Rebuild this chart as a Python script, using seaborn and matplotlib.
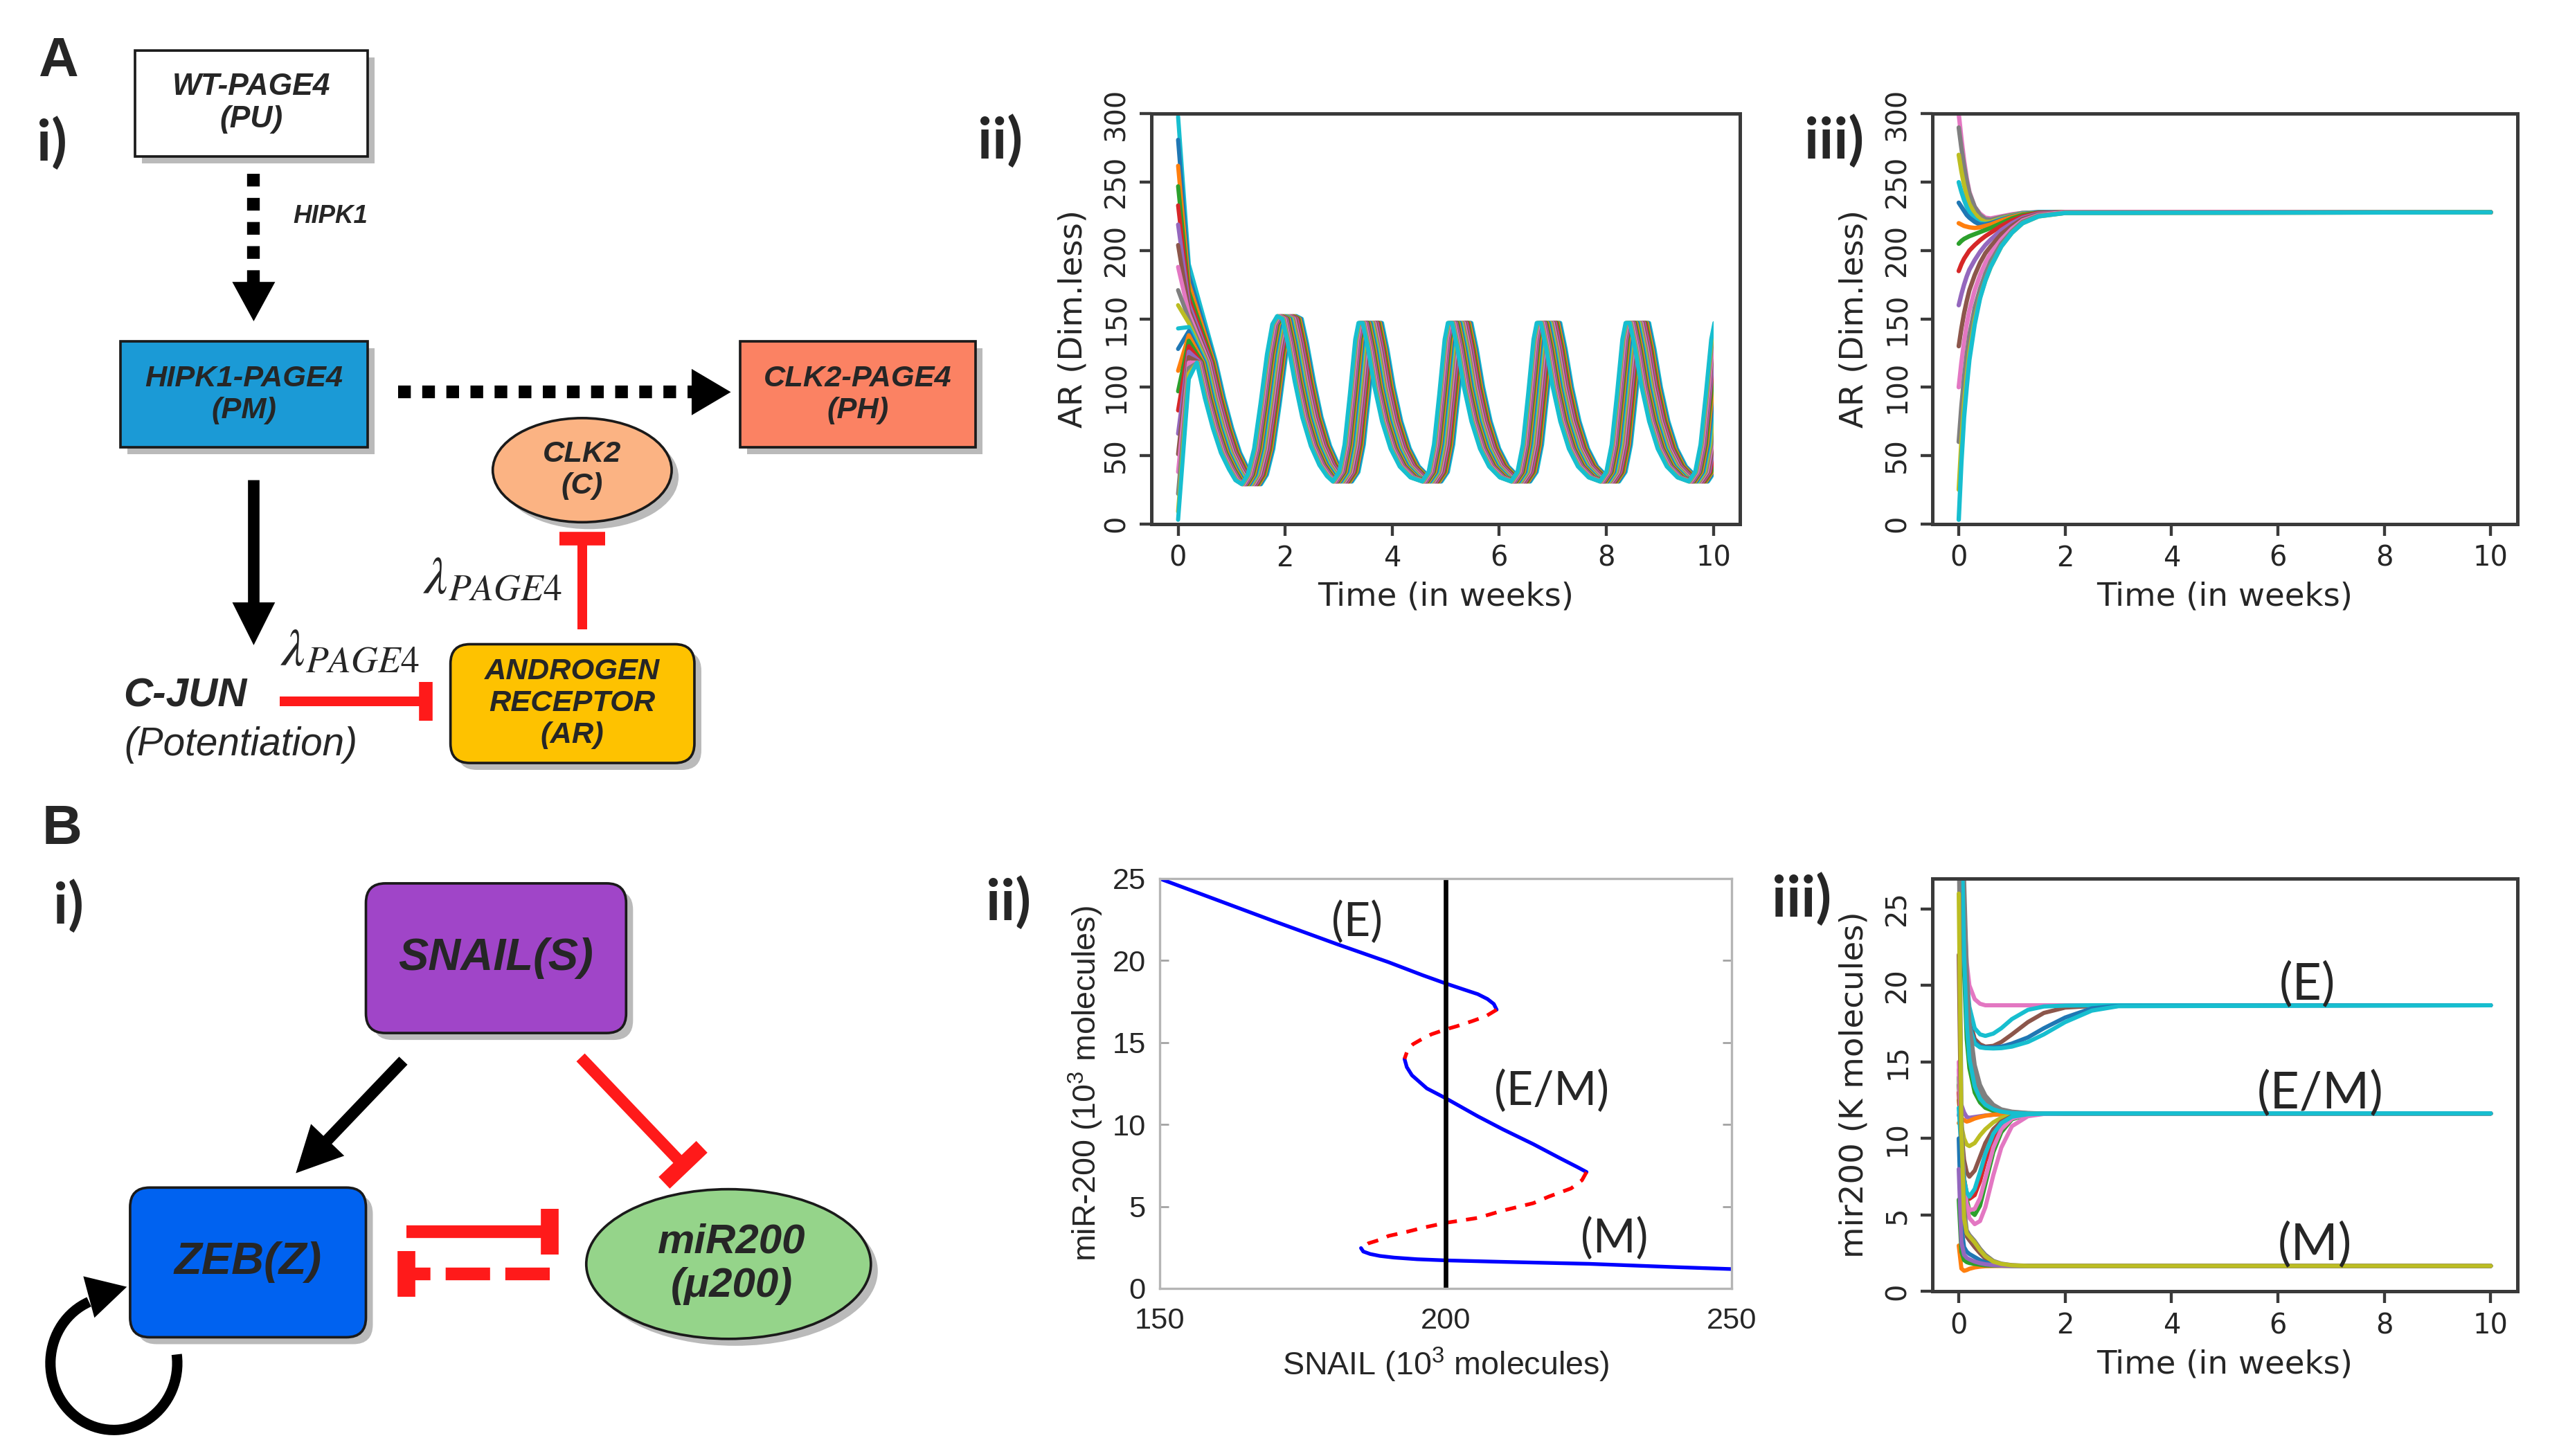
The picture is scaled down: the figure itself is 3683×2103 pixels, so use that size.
import numpy as np
import pandas as pd
import matplotlib
matplotlib.use("Agg")
import matplotlib.pyplot as plt
import matplotlib.patches as mpatches
import matplotlib.patheffects as pe
import seaborn as sns

# ---------------- data ----------------
# A ii) oscillating AR: leading trajectory (time in weeks, AR value)
ar_osc_t = [0.2, 0.35, 0.5, 0.65, 0.8, 0.95, 1.07, 1.19, 1.3, 1.42, 1.54, 1.66, 1.76, 1.85, 1.95, 2.05,
            2.18, 2.32, 2.48, 2.64, 2.78,
            2.89, 3.01, 3.11, 3.21, 3.31, 3.37, 3.45, 3.55, 3.67, 3.81, 3.97, 4.14, 4.34,
            4.56, 4.68, 4.78, 4.88, 4.98, 5.04, 5.12, 5.22, 5.34, 5.48, 5.64, 5.81, 6.01,
            6.22, 6.34, 6.44, 6.54, 6.64, 6.70, 6.78, 6.88, 7.00, 7.14, 7.30, 7.47, 7.67,
            7.88, 8.00, 8.10, 8.20, 8.30, 8.36, 8.44, 8.54, 8.66, 8.80, 8.96, 9.13, 9.33,
            9.54, 9.66, 9.76, 9.86, 9.96, 10.02, 10.10]
ar_osc_v = [150, 118, 92, 70, 52, 40, 32, 29, 36, 55, 88, 124, 146, 152, 150, 132,
            104, 78, 57, 43, 35,
            31, 38, 58, 95, 135, 147, 147, 128, 100, 75, 55, 42, 34,
            31, 38, 58, 95, 135, 147, 147, 128, 100, 75, 55, 42, 34,
            31, 38, 58, 95, 135, 147, 147, 128, 100, 75, 55, 42, 34,
            31, 38, 58, 95, 135, 147, 147, 128, 100, 75, 55, 42, 34,
            31, 38, 58, 95, 135, 147, 147]
# initial AR (t=0), AR at t=0.2 and delay of each trajectory in the band (weeks)
ar_osc_start = [298, 281, 262, 247, 233, 219, 204, 188, 171, 160, 143,
                128, 112, 97, 83, 66, 51, 38, 22, 9, 3]
ar_osc_early = [190, 182, 176, 170, 165, 161, 157, 154, 150, 147, 144,
                141, 138, 134, 130, 126, 122, 118, 114, 110, 106]
ar_osc_lag = [0.36, 0.34, 0.32, 0.30, 0.28, 0.26, 0.24, 0.22, 0.20, 0.18, 0.16,
              0.14, 0.12, 0.10, 0.08, 0.07, 0.05, 0.04, 0.02, 0.01, 0.0]

# A iii) AR relaxing to the steady state
ar_ss_t = [0, 0.05, 0.1, 0.15, 0.2, 0.3, 0.4, 0.5, 0.6, 0.8, 1.0, 1.2, 1.5, 2.0, 10.0]
ar_ss_runs = [
    [300, 282, 266, 253, 243, 232, 227, 224, 223.5, 225, 226.5, 227.5, 228, 228, 228],
    [290, 275, 262, 251, 242, 232, 226, 223, 222.5, 224.5, 226, 227.5, 228, 228, 228],
    [270, 258, 248, 240, 234, 227, 223, 221, 221, 223.5, 225.5, 227, 228, 228, 228],
    [250, 243, 237, 232, 228, 223, 220, 219.5, 220, 223, 225, 227, 228, 228, 228],
    [235, 232, 229, 226, 224, 221, 219, 219, 220, 222.5, 225, 226.5, 228, 228, 228],
    [220, 219, 218, 217.5, 217, 216.5, 217, 218, 219, 222, 224.5, 226.5, 227.5, 228, 228],
    [205, 207, 208.5, 209.5, 210.5, 212, 213.5, 215, 216.5, 220, 223.5, 226, 227.5, 228, 228],
    [185, 190, 194, 197, 200, 204, 207.5, 210.5, 213, 218, 222, 225, 227.5, 228, 228],
    [160, 168, 175, 181, 186, 193, 199, 204, 208, 215, 220, 224, 227, 228, 228],
    [130, 143, 154, 163, 171, 182, 191, 198, 203, 212, 218, 223, 226.5, 228, 228],
    [100, 118, 133, 146, 156, 171, 182, 191, 198, 208, 216, 222, 226, 228, 228],
    [60, 86, 107, 124, 138, 158, 172, 183, 192, 205, 214, 221, 225.5, 227.5, 228],
    [25, 60, 88, 108, 125, 149, 166, 178, 188, 203, 213, 220, 225, 227.5, 228],
    [3, 45, 78, 100, 120, 146, 165, 178, 188, 203, 213, 220, 225, 227.5, 228],
]

# B ii) bifurcation diagram (SNAIL, miR-200), stable and unstable branches
e_snail = [150, 160, 170, 181, 190, 196, 200, 203, 205.6, 207.3, 208.4, 208.9]
e_mir = [25.0, 23.7, 22.4, 21.0, 19.9, 19.1, 18.6, 18.25, 17.95, 17.65, 17.35, 17.0]
u1_snail = [208.9, 207, 204.6, 202, 200, 197.5, 195.8, 194.3, 193.4, 192.8]
u1_mir = [17.0, 16.6, 16.3, 16.0, 15.8, 15.5, 15.2, 14.9, 14.6, 14.0]
em_snail = [192.8, 193.2, 194.1, 196.7, 200, 205.6, 210, 215.3, 220.2, 223, 224.6]
em_mir = [14.0, 13.5, 13.0, 12.2, 11.6, 10.5, 9.7, 8.8, 7.9, 7.4, 7.1]
u2_snail = [224.6, 223.8, 221.9, 218, 215.3, 210, 205.6, 200, 196, 193.2, 190, 188.8, 186.5, 185.2]
u2_mir = [7.1, 6.6, 6.1, 5.6, 5.2, 4.75, 4.3, 4.0, 3.7, 3.45, 3.2, 3.0, 2.75, 2.46]
m_snail = [185.2, 185.6, 186.8, 188.5, 191, 195, 200, 210, 225, 240, 250]
m_mir = [2.46, 2.25, 2.1, 1.98, 1.88, 1.78, 1.71, 1.62, 1.5, 1.3, 1.18]
snail_level = 200

# B iii) miR-200 trajectories (K molecules) converging to E, E/M, M
mir_t = [0, 0.05, 0.1, 0.15, 0.2, 0.3, 0.4, 0.5, 0.65, 0.8, 1.0, 1.3, 1.6, 2.0, 2.5, 3.0, 10.0]
mir_e_runs = [
    [45, 33, 25, 21.5, 20.0, 19.1, 18.8, 18.7, 18.7, 18.7, 18.7, 18.7, 18.7, 18.7, 18.7, 18.7, 18.7],
    [45, 31, 23, 19.5, 17.8, 16.5, 16.15, 16.0, 16.05, 16.3, 16.8, 17.6, 18.2, 18.55, 18.65, 18.7, 18.7],
    [45, 32, 24, 20.5, 18.6, 17.2, 16.8, 16.7, 16.85, 17.2, 17.8, 18.4, 18.62, 18.68, 18.7, 18.7, 18.7],
    [45, 31, 22.5, 19, 17.4, 16.3, 16.0, 15.95, 15.95, 16.0, 16.2, 16.6, 17.2, 17.9, 18.5, 18.66, 18.7],
    [45, 31, 22.5, 19, 17.3, 16.2, 15.95, 15.9, 15.88, 15.9, 16.0, 16.3, 16.8, 17.6, 18.35, 18.64, 18.7],
]
mir_em_runs = [
    [45, 34, 25, 19.5, 16.8, 14.2, 13.1, 12.5, 12.05, 11.85, 11.72, 11.65, 11.63, 11.63, 11.63, 11.63, 11.63],
    [45, 30, 21, 16.5, 14.6, 13.0, 12.35, 12.0, 11.8, 11.7, 11.65, 11.63, 11.63, 11.63, 11.63, 11.63, 11.63],
    [45, 35, 27, 21, 17.5, 14.8, 13.5, 12.8, 12.2, 11.9, 11.75, 11.66, 11.63, 11.63, 11.63, 11.63, 11.63],
    [11.5, 12.2, 11.7, 11.4, 11.35, 11.4, 11.45, 11.5, 11.55, 11.58, 11.6, 11.62, 11.63, 11.63, 11.63, 11.63, 11.63],
    [11.0, 11.3, 11.2, 11.1, 11.15, 11.3, 11.4, 11.48, 11.55, 11.58, 11.6, 11.62, 11.63, 11.63, 11.63, 11.63, 11.63],
    [12.5, 10.8, 10.0, 9.6, 9.5, 9.7, 10.2, 10.6, 11.05, 11.35, 11.52, 11.6, 11.63, 11.63, 11.63, 11.63, 11.63],
    [13.5, 10.5, 8.6, 7.8, 7.5, 7.9, 8.8, 9.7, 10.6, 11.1, 11.45, 11.6, 11.63, 11.63, 11.63, 11.63, 11.63],
    [13.0, 9.6, 7.4, 6.4, 6.05, 6.3, 7.2, 8.5, 9.9, 10.8, 11.35, 11.57, 11.62, 11.63, 11.63, 11.63, 11.63],
    [14.0, 10.2, 7.4, 6.0, 5.3, 5.0, 5.6, 7.0, 9.1, 10.4, 11.25, 11.55, 11.62, 11.63, 11.63, 11.63, 11.63],
    [15.0, 10.3, 7.2, 5.6, 4.8, 4.4, 4.6, 5.5, 7.6, 9.4, 10.8, 11.45, 11.6, 11.63, 11.63, 11.63, 11.63],
    [14.5, 9.8, 7.0, 5.7, 5.3, 5.4, 6.1, 7.4, 9.4, 10.6, 11.3, 11.56, 11.62, 11.63, 11.63, 11.63, 11.63],
    [12.0, 9.2, 7.3, 6.5, 6.2, 6.7, 7.8, 9.0, 10.3, 11.0, 11.42, 11.58, 11.62, 11.63, 11.63, 11.63, 11.63],
    [45, 31, 22, 17.5, 15.2, 13.4, 12.6, 12.2, 11.9, 11.75, 11.66, 11.63, 11.63, 11.63, 11.63, 11.63, 11.63],
]
mir_m_runs = [
    [30, 12, 5.5, 4.0, 3.7, 3.3, 2.8, 2.4, 2.0, 1.82, 1.72, 1.68, 1.67, 1.67, 1.67, 1.67, 1.67],
    [22, 9, 4.5, 3.6, 3.35, 2.9, 2.5, 2.15, 1.88, 1.76, 1.7, 1.67, 1.67, 1.67, 1.67, 1.67, 1.67],
    [10, 4.2, 2.9, 2.6, 2.45, 2.25, 2.05, 1.9, 1.78, 1.72, 1.68, 1.67, 1.67, 1.67, 1.67, 1.67, 1.67],
    [3.0, 1.5, 1.35, 1.4, 1.48, 1.57, 1.62, 1.65, 1.66, 1.67, 1.67, 1.67, 1.67, 1.67, 1.67, 1.67, 1.67],
    [6.0, 2.6, 2.05, 1.92, 1.86, 1.8, 1.75, 1.71, 1.69, 1.68, 1.67, 1.67, 1.67, 1.67, 1.67, 1.67, 1.67],
    [8.0, 3.2, 2.4, 2.2, 2.1, 1.95, 1.85, 1.78, 1.72, 1.69, 1.67, 1.67, 1.67, 1.67, 1.67, 1.67, 1.67],
    [26, 10.5, 4.8, 3.8, 3.6, 3.2, 2.7, 2.3, 1.95, 1.8, 1.71, 1.67, 1.67, 1.67, 1.67, 1.67, 1.67],
]

# ---------------- styles ----------------
tab = sns.color_palette("tab10")
e_colors = ["tab:pink", "tab:brown", "tab:cyan", "tab:blue", "tab:cyan"]
em_colors = ["tab:gray", "tab:green", "tab:gray", "tab:purple", "tab:orange", "tab:olive",
             "tab:brown", "tab:red", "tab:green", "tab:pink", "tab:pink", "tab:cyan", "tab:cyan"]
m_colors = ["tab:gray", "tab:brown", "tab:blue", "tab:orange", "tab:green", "tab:purple", "tab:olive"]

sns.set_style("ticks")
plt.rcParams["font.family"] = ["DejaVu Sans"]
plt.rcParams["mathtext.fontset"] = "custom"
plt.rcParams["mathtext.rm"] = "Liberation Sans"
plt.rcParams["mathtext.it"] = "Liberation Sans:italic"

fig = plt.figure(figsize=(3683 / 240, 2103 / 240), dpi=240)
fig.patch.set_facecolor("white")

# overlay axes for the network diagrams, in pixel-like units
dax = fig.add_axes([0, 0, 1, 1])
dax.set_xlim(0, 1568)
dax.set_ylim(895, 0)
dax.axis("off")

shadow = [pe.SimplePatchShadow(offset=(3, -3), shadow_rgbFace="#666666", alpha=0.45), pe.Normal()]


def box(x0, y0, x1, y1, color, rounded=False):
    style = "round,pad=0,rounding_size=12" if rounded else "square,pad=0"
    dax.add_patch(mpatches.FancyBboxPatch((x0, y0), x1 - x0, y1 - y0, boxstyle=style,
                                          fc=color, ec="#1a1a1a", lw=1.1, path_effects=shadow))


def oval(cx, cy, w, h, color):
    dax.add_patch(mpatches.Ellipse((cx, cy), w, h, fc=color, ec="#1a1a1a", lw=1.1, path_effects=shadow))


def label(x, y, s, size, style="italic", weight="bold"):
    dax.text(x, y, s, ha="center", va="center", fontsize=size, fontstyle=style,
             fontweight=weight, family="Liberation Sans", linespacing=1.2)


def arrow(x0, y0, x1, y1, lw=5, head_len=22, head_w=24, dotted=False, color="black"):
    d = np.hypot(x1 - x0, y1 - y0)
    ux, uy = (x1 - x0) / d, (y1 - y0) / d
    bx, by = x1 - ux * head_len, y1 - uy * head_len
    ls = (0, (1, 0.9)) if dotted else "-"
    dax.plot([x0, bx], [y0, by], color=color, lw=lw, ls=ls,
             solid_capstyle="butt", dash_capstyle="butt")
    nx, ny = -uy, ux
    tri = [(x1, y1), (bx + nx * head_w / 2, by + ny * head_w / 2), (bx - nx * head_w / 2, by - ny * head_w / 2)]
    dax.add_patch(mpatches.Polygon(tri, closed=True, fc=color, ec=color))


def tbar(x0, y0, x1, y1, lw=4.2, bar=26, dashed=False, color="#ff1a1a"):
    d = np.hypot(x1 - x0, y1 - y0)
    ux, uy = (x1 - x0) / d, (y1 - y0) / d
    nx, ny = -uy, ux
    ls = (0, (3.5, 1.2)) if dashed else "-"
    dax.plot([x0, x1], [y0, y1], color=color, lw=lw, ls=ls, solid_capstyle="butt", dash_capstyle="butt")
    dax.plot([x1 - nx * bar / 2, x1 + nx * bar / 2], [y1 - ny * bar / 2, y1 + ny * bar / 2],
             color=color, lw=lw * 1.4, solid_capstyle="butt")


# ---- panel A i) ----
box(83, 31, 226, 96, "white")
label(154.5, 63.5, "WT-PAGE4\n(PU)", 13.3)
arrow(156, 107, 156, 196, lw=5.5, head_len=22, head_w=24, dotted=True)
label(203, 133, "HIPK1", 11)
box(74, 210, 226, 275, "#1b9ad6")
label(150, 242.5, "HIPK1-PAGE4\n(PM)", 13)
arrow(245, 241, 448, 241, lw=5.5, head_len=22, head_w=26, dotted=True)
box(455, 210, 600, 275, "#fb8263")
label(527.5, 242.5, "CLK2-PAGE4\n(PH)", 13)
oval(358, 289, 110, 64, "#fbb383")
label(358, 289, "CLK2\n(C)", 13)
arrow(156, 295, 156, 395, lw=5, head_len=24, head_w=24)
tbar(358, 387, 358, 331, lw=4.2, bar=28)
dax.text(303, 356, r"$\lambda_{PAGE4}$", fontsize=23, math_fontfamily="stix", ha="center", va="center")
dax.text(215, 400, r"$\lambda_{PAGE4}$", fontsize=23, math_fontfamily="stix", ha="center", va="center")
label(114, 428, "C-JUN", 17.5)
label(148, 458, "(Potentiation)", 17, weight="normal")
tbar(172, 431, 262, 431, lw=4.2, bar=24)
box(277, 396, 427, 469, "#fec200", rounded=True)
label(352, 432.5, "ANDROGEN\nRECEPTOR\n(AR)", 13)

# ---- panel B i) ----
box(225, 543, 385, 635, "#a045c8", rounded=True)
label(305, 589, "SNAIL(S)", 19.5)
arrow(248, 652, 183, 720, lw=5, head_len=26, head_w=26)
tbar(357, 650, 420, 716, lw=5, bar=32)
box(80, 730, 225, 822, "#0062f0", rounded=True)
label(152.5, 776, "ZEB(Z)", 19.5)
oval(448, 777, 175, 92, "#95d48a")
label(450, 777, "miR200\n(\u03bc200)", 18)
tbar(250, 757, 338, 757, lw=5.5, bar=28)
tbar(338, 783, 250, 783, lw=5.5, bar=28, dashed=True)
# ZEB self-activation loop
dax.add_patch(mpatches.Arc((70, 838), 78, 82, theta1=-8, theta2=248, lw=4.5, color="black"))
ang = np.deg2rad(255)
tip = (70 + 39 * np.cos(np.deg2rad(262)) + 12, 838 + 41 * np.sin(np.deg2rad(262)) - 6)
tx, ty = -np.sin(ang), np.cos(ang)
bx, by = tip[0] - tx * 22, tip[1] - ty * 22
dax.add_patch(mpatches.Polygon([tip, (bx - ty * 12, by + tx * 12), (bx + ty * 12, by - tx * 12)],
                               closed=True, fc="black", ec="black"))

# ---- panel letters ----
for x, y, s in [(36, 38, "A"), (38, 510, "B")]:
    dax.text(x, y, s, fontsize=24, fontweight="bold", family="Liberation Sans", ha="center", va="center")
for x, y, s in [(32, 88, "i)"), (615, 87, "ii)"), (1128, 87, "iii)"),
                (42, 557, "i)"), (620, 555, "ii)"), (1108, 553, "iii)")]:
    dax.text(x, y, s, fontsize=25, fontweight="bold", family="Lato", ha="center", va="center")


# ---------------- plots ----------------
def draw_runs(ax, t_lists, v_lists, colors, lw=1.6):
    frames = [pd.DataFrame({"t": t, "v": v, "run": f"r{k}"}) for k, (t, v) in enumerate(zip(t_lists, v_lists))]
    df = pd.concat(frames, ignore_index=True)
    sns.lineplot(data=df, x="t", y="v", hue="run", palette=colors, estimator=None,
                 sort=False, legend=False, lw=lw, ax=ax)


def style_time_axes(ax, ylabel, yticks, ylim):
    ax.set_xlim(-0.5, 10.5)
    ax.set_ylim(*ylim)
    ax.set_xticks([0, 2, 4, 6, 8, 10])
    ax.set_yticks(yticks)
    ax.set_yticklabels([str(v) for v in yticks], rotation=90, va="center")
    ax.set_xlabel("Time (in weeks)", fontsize=14, labelpad=4)
    ax.set_ylabel(ylabel, fontsize=14, labelpad=6)
    for s in ax.spines.values():
        s.set_visible(True)
        s.set_color("#3a3a3a")
        s.set_linewidth(1.5)
    ax.tick_params(direction="out", length=5, width=1.3, labelsize=12, color="#3a3a3a", pad=4)


def cycle_colors(n):
    return [tab[(k - n) % 10] for k in range(n)]


# A ii)
ax2 = fig.add_axes([0.4515, 0.6402, 0.2309, 0.2816])
osc_t = [[0, 0.2] + [x + lag for x in ar_osc_t[1:]] for lag in ar_osc_lag]
osc_v = [[a0, a1] + ar_osc_v[1:] for a0, a1 in zip(ar_osc_start, ar_osc_early)]
draw_runs(ax2, osc_t, osc_v, cycle_colors(len(osc_t)), lw=1.8)
clip = mpatches.Rectangle((-1, -50), 11, 500, transform=ax2.transData)
for ln in ax2.lines:
    ln.set_clip_path(clip)
style_time_axes(ax2, "AR (Dim.less)", [0, 50, 100, 150, 200, 250, 300], (0, 300))

# A iii)
ax3 = fig.add_axes([0.7577, 0.6402, 0.2295, 0.2816])
draw_runs(ax3, [ar_ss_t] * len(ar_ss_runs), ar_ss_runs, cycle_colors(len(ar_ss_runs)), lw=1.9)
style_time_axes(ax3, "AR (Dim.less)", [0, 50, 100, 150, 200, 250, 300], (0, 300))

# B ii)
bx2 = fig.add_axes([0.4547, 0.1151, 0.2245, 0.2815])
for xs, ys in [(e_snail, e_mir), (em_snail, em_mir), (m_snail, m_mir)]:
    sns.lineplot(x=xs, y=ys, sort=False, color="#0000ff", lw=1.6, ax=bx2)
for xs, ys in [(u1_snail, u1_mir), (u2_snail, u2_mir)]:
    sns.lineplot(x=xs, y=ys, sort=False, color="#ff0000", lw=1.6, ax=bx2)
for ln in bx2.lines[3:5]:
    ln.set_dashes((3, 2.5))
bx2.axvline(snail_level, color="black", lw=2)
bx2.set_xlim(150, 250)
bx2.set_ylim(0, 25)
bx2.set_xticks([150, 200, 250])
bx2.set_yticks([0, 5, 10, 15, 20, 25])
for s in bx2.spines.values():
    s.set_visible(True)
    s.set_color("#b5b5b5")
    s.set_linewidth(1.0)
bx2.tick_params(direction="in", length=4, width=0.8, color="#a0a0a0", top=True, right=True,
                labelsize=13, labelcolor="#262626")
bx2.tick_params(axis="x", pad=8)
bx2.tick_params(axis="y", pad=6)
for lab in bx2.get_xticklabels() + bx2.get_yticklabels():
    lab.set_fontfamily("Liberation Sans")
bx2.set_xlabel(r"SNAIL (10$^3$ molecules)", fontsize=14, family="Liberation Sans", color="#262626", labelpad=5)
bx2.set_ylabel(r"miR-200 (10$^3$ molecules)", fontsize=14, family="Liberation Sans", color="#262626", labelpad=3)
for x, y, s in [(184.5, 22.3, "(E)"), (218.5, 12.0, "(E/M)"), (229.5, 3.0, "(M)")]:
    bx2.text(x, y, s, fontsize=20, family="Lato", ha="center", va="center")

# B iii)
bx3 = fig.add_axes([0.7577, 0.113, 0.2295, 0.2838])
runs = mir_e_runs + mir_em_runs + mir_m_runs
draw_runs(bx3, [mir_t] * len(runs), runs, e_colors + em_colors + m_colors, lw=1.8)
style_time_axes(bx3, "mir200 (K molecules)", [0, 5, 10, 15, 20, 25], (0, 27))
for x, y, s in [(6.55, 20.0, "(E)"), (6.8, 12.9, "(E/M)"), (6.7, 3.0, "(M)")]:
    bx3.text(x, y, s, fontsize=22, family="Lato", ha="center", va="center")

fig.savefig("out.png", dpi=240, facecolor="white")
